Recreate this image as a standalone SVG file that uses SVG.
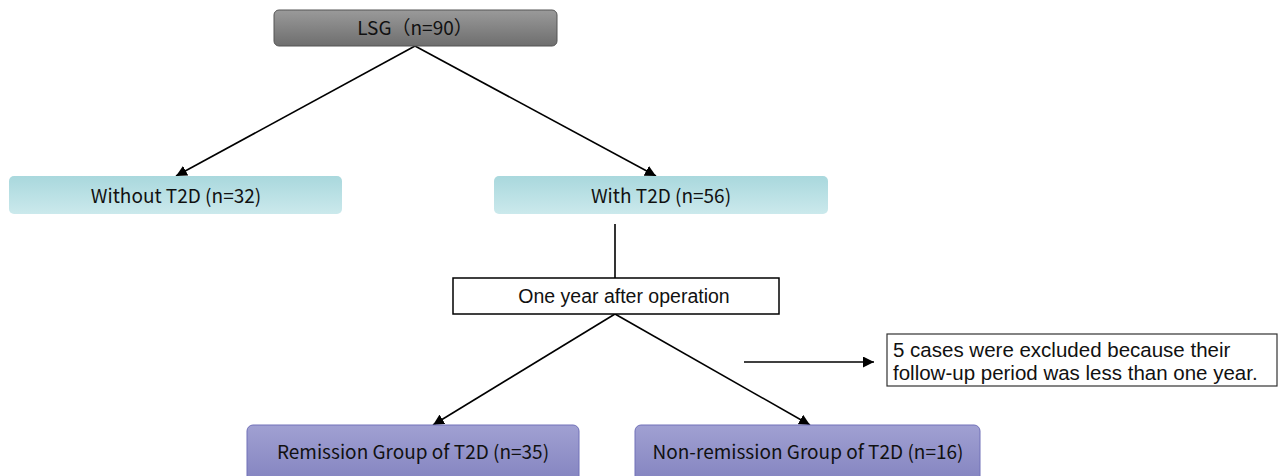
<svg xmlns="http://www.w3.org/2000/svg" width="1279" height="476" viewBox="0 0 1279 476">
<defs>
<linearGradient id="gGray" x1="0" y1="0" x2="0" y2="1"><stop offset="0" stop-color="#9a9a9a"/><stop offset="1" stop-color="#6e6e6e"/></linearGradient>
<linearGradient id="gCyan" x1="0" y1="0" x2="0" y2="1"><stop offset="0" stop-color="#a9d8dd"/><stop offset="1" stop-color="#cbe9ec"/></linearGradient>
<linearGradient id="gPurple" x1="0" y1="0" x2="0" y2="1"><stop offset="0" stop-color="#a0a0d2"/><stop offset="1" stop-color="#8282bf"/></linearGradient>
<marker id="arr2" viewBox="0 0 10 10" refX="10" refY="5" markerWidth="11" markerHeight="11" orient="auto" markerUnits="userSpaceOnUse"><path d="M0,0 L10,5 L0,10 z" fill="#000"/></marker>
</defs>
<style>
.jp{font-family:"Noto Sans CJK JP","Noto Sans",sans-serif;font-size:19px;fill:#111;text-anchor:middle;}
.ar{font-family:"Liberation Sans",Arial,sans-serif;font-size:19.5px;fill:#111;}
.ar2{font-family:"Liberation Sans",Arial,sans-serif;font-size:20.5px;fill:#111;}
.ln{stroke:#000;stroke-width:1.6;fill:none;}
</style>
<g id="connectors">
<line class="ln" x1="415" y1="46" x2="176" y2="176" marker-end="url(#arr2)"/>
<line class="ln" x1="415" y1="46" x2="656" y2="176" marker-end="url(#arr2)"/>
<line class="ln" x1="615" y1="224" x2="615" y2="278"/>
<line class="ln" x1="615" y1="314" x2="433" y2="425" marker-end="url(#arr2)"/>
<line class="ln" x1="615" y1="314" x2="810" y2="425" marker-end="url(#arr2)"/>
<line class="ln" x1="744" y1="362" x2="874" y2="362" marker-end="url(#arr2)"/>
</g>
<g id="lsg">
<rect x="274" y="10" width="283" height="36" rx="5" fill="url(#gGray)" stroke="#555" stroke-width="1"/>
<text class="jp" x="415" y="35">LSG（n=90）</text>
</g>
<g id="without">
<rect x="9" y="176" width="333" height="38" rx="5" fill="url(#gCyan)"/>
<text class="jp" x="176" y="203">Without T2D (n=32)</text>
</g>
<g id="with">
<rect x="494" y="176" width="334" height="38" rx="5" fill="url(#gCyan)"/>
<text class="jp" x="661" y="203">With T2D (n=56)</text>
</g>
<g id="oneyear">
<rect x="453" y="278" width="326" height="36" fill="#fff" stroke="#000" stroke-width="1.5"/>
<text class="ar" x="624" y="303" text-anchor="middle">One year after operation</text>
</g>
<g id="excluded">
<rect x="887" y="334" width="390" height="52" fill="#fff" stroke="#333" stroke-width="1.2"/>
<text class="ar2" x="893" y="357">5 cases were excluded because their</text>
<text class="ar2" x="893" y="380">follow-up period was less than one year.</text>
</g>
<g id="remission">
<rect x="247" y="425" width="332" height="60" rx="6" fill="url(#gPurple)" stroke="#7070b8" stroke-width="1"/>
<text class="jp" x="413" y="459">Remission Group of T2D (n=35)</text>
</g>
<g id="nonremission">
<rect x="635" y="425" width="345" height="60" rx="6" fill="url(#gPurple)" stroke="#7070b8" stroke-width="1"/>
<text class="jp" x="808" y="459">Non-remission Group of T2D (n=16)</text>
</g>
</svg>
